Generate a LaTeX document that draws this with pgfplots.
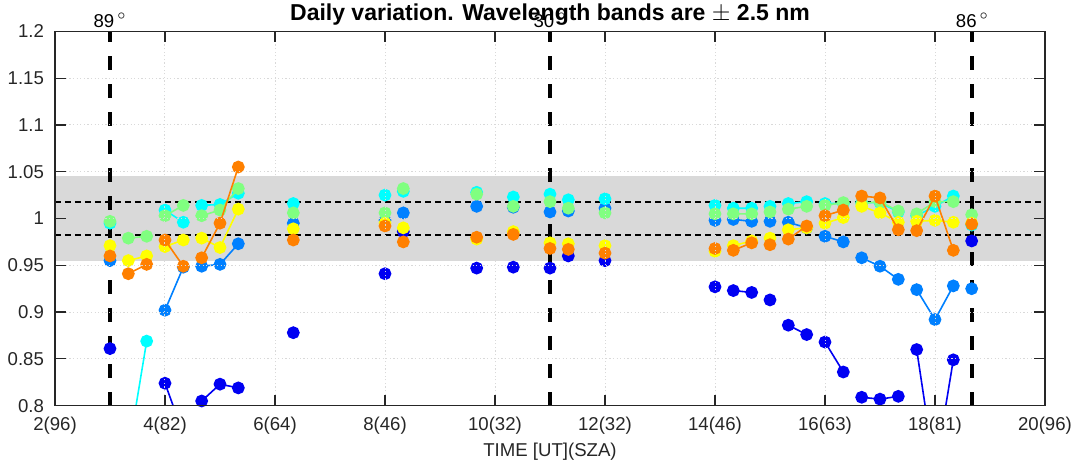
\documentclass[border=0pt]{standalone}
\usepackage{pgfplots}
\pgfplotsset{compat=1.18}
\usepackage{pgfplotstable}
\usepackage{fontspec}
\setmainfont{Liberation Sans}
\definecolor{cDB}{rgb}{0,0,0.95}
\definecolor{cMB}{rgb}{0,0.5,1}
\definecolor{cCY}{rgb}{0,1,1}
\definecolor{cGR}{rgb}{0.5,1,0.5}
\definecolor{cYE}{rgb}{1,1,0}
\definecolor{cOR}{rgb}{1,0.5,0}
\definecolor{band}{rgb}{0.85,0.85,0.85}
\definecolor{axgray}{rgb}{0.15,0.15,0.15}

\pgfplotstableread{
t      db     mb     cy     gr     ye     or
3.000  0.861  0.955  0.995  0.997  0.971  0.960
nan    nan    nan    nan    nan    nan    nan
3.333  nan    nan    0.750  0.979  0.955  0.941
3.667  nan    nan    0.869  0.981  0.960  0.951
nan    nan    nan    nan    nan    nan    nan
4.000  0.824  0.902  1.009  1.003  0.970  0.977
4.333  0.770  0.948  0.996  1.014  0.977  0.949
nan    nan    nan    nan    nan    nan    nan
4.667  0.805  0.949  1.014  1.003  0.979  0.958
5.000  0.823  0.951  1.015  1.009  0.969  0.995
5.333  0.819  0.973  1.027  1.032  1.010  1.055
nan    nan    nan    nan    nan    nan    nan
6.333  0.878  0.995  1.016  1.006  0.989  0.977
nan    nan    nan    nan    nan    nan    nan
8.000  0.941  0.998  1.025  1.006  0.995  0.992
nan    nan    nan    nan    nan    nan    nan
8.333  0.986  1.006  1.029  1.032  0.990  0.975
nan    nan    nan    nan    nan    nan    nan
9.667  0.947  1.013  1.028  1.026  0.978  0.980
nan    nan    nan    nan    nan    nan    nan
10.333 0.948  1.012  1.023  1.013  0.986  0.983
nan    nan    nan    nan    nan    nan    nan
11.000 0.947  1.007  1.026  1.018  0.974  0.968
nan    nan    nan    nan    nan    nan    nan
11.333 0.960  1.008  1.020  1.011  0.973  0.967
nan    nan    nan    nan    nan    nan    nan
12.000 0.955  1.011  1.021  1.006  0.971  0.963
nan    nan    nan    nan    nan    nan    nan
14.000 0.927  0.998  1.014  1.005  0.965  0.968
nan    nan    nan    nan    nan    nan    nan
14.333 0.923  0.999  1.011  1.005  0.971  0.966
14.667 0.921  0.997  1.011  1.005  0.976  0.974
nan    nan    nan    nan    nan    nan    nan
15.000 0.913  0.997  1.013  1.007  0.979  0.972
nan    nan    nan    nan    nan    nan    nan
15.333 0.886  0.996  1.016  1.010  0.988  0.978
15.667 0.876  0.990  1.018  1.013  0.990  0.992
nan    nan    nan    nan    nan    nan    nan
16.000 0.868  0.981  1.016  1.014  0.995  1.003
16.333 0.836  0.975  1.016  1.017  1.001  1.009
nan    nan    nan    nan    nan    nan    nan
16.667 0.809  0.958  1.017  1.016  1.013  1.024
17.000 0.807  0.949  1.017  1.018  1.006  1.022
17.333 0.810  0.935  1.007  1.008  0.996  0.988
nan    nan    nan    nan    nan    nan    nan
17.667 0.860  0.924  1.003  1.005  0.997  0.987
18.000 0.730  0.892  1.013  1.018  0.998  1.024
18.333 0.849  0.928  1.024  1.018  0.996  0.966
nan    nan    nan    nan    nan    nan    nan
18.667 0.976  0.925  0.993  1.004  0.995  0.994
}\data

\begin{document}
\begin{tikzpicture}[font=\fontsize{9.3}{11}\selectfont]
\path[use as bounding box] (-27.5pt,-29.65pt) rectangle (511.5pt,202.85pt);
\begin{axis}[
  at={(0,0)}, anchor=south west,
  scale only axis, width=495pt, height=187.2pt,
  xmin=2, xmax=20, ymin=0.8, ymax=1.2,
  xtick={2,4,6,8,10,12,14,16,18,20},
  xticklabels={2(96),4(82),6(64),8(46),10(32),12(32),14(46),16(63),18(81),20(96)},
  ytick={0.8,0.85,0.9,0.95,1,1.05,1.1,1.15,1.2},
  yticklabels={0.8,0.85,0.9,0.95,1,1.05,1.1,1.15,1.2},
  tick align=inside, major tick length=5.5pt,
  axis line style={axgray, line width=0.6pt},
  every tick/.style={axgray, line width=0.6pt},
  tick label style={text=axgray},
  xticklabel style={yshift=-2pt},
  yticklabel style={xshift=-2pt},
  grid=major,
  major grid style={gray!30, line width=0.5pt, dash pattern=on 0.6pt off 1.2pt},
  axis on top,
  clip mode=individual,
  unbounded coords=jump,
  title={Daily variation. Wavelength bands are $\pm$ 2.5 nm},
  every axis title shift=0pt,
  title style={font=\bfseries\fontsize{11.5}{13}\selectfont, at={(0.5,1)}, anchor=base, yshift=5.5pt},
  xlabel={TIME [UT](SZA)},
  xlabel style={at={(axis description cs:0.5,0)}, anchor=base, yshift=-25.5pt, text=axgray},
  every axis plot/.append style={line width=0.8pt, mark=*, mark size=2.8pt},
]
\fill[band] (axis cs:2,0.955) rectangle (axis cs:20,1.045);
\addplot[black, line width=0.9pt, dash pattern=on 3pt off 2pt, mark=none] coordinates {(2,1.018) (20,1.018)};
\addplot[black, line width=0.9pt, dash pattern=on 3pt off 2pt, mark=none] coordinates {(2,0.982) (20,0.982)};
\addplot[black, line width=2pt, dash pattern=on 7pt off 7pt, mark=none] coordinates {(3,0.8) (3,1.2)};
\addplot[black, line width=2pt, dash pattern=on 7pt off 7pt, mark=none] coordinates {(11,0.8) (11,1.2)};
\addplot[black, line width=2pt, dash pattern=on 7pt off 7pt, mark=none] coordinates {(18.68,0.8) (18.68,1.2)};
\addplot[cDB, mark options={fill=cDB, draw=cDB}] table[x=t, y=db] {\data};
\addplot[cMB, mark options={fill=cMB, draw=cMB}] table[x=t, y=mb] {\data};
\addplot[cCY, mark options={fill=cCY, draw=cCY}] table[x=t, y=cy] {\data};
\addplot[cGR, mark options={fill=cGR, draw=cGR}] table[x=t, y=gr] {\data};
\addplot[cYE, mark options={fill=cYE, draw=cYE}] table[x=t, y=ye] {\data};
\addplot[cOR, mark options={fill=cOR, draw=cOR}] table[x=t, y=or] {\data};
\node[anchor=base, yshift=2pt] at (axis cs:3,1.2) {89\,$^{\circ}$};
\node[anchor=base, yshift=2pt] at (axis cs:11,1.2) {30\,$^{\circ}$};
\node[anchor=base, yshift=2pt] at (axis cs:18.68,1.2) {86\,$^{\circ}$};
\end{axis}
\end{tikzpicture}
\end{document}
